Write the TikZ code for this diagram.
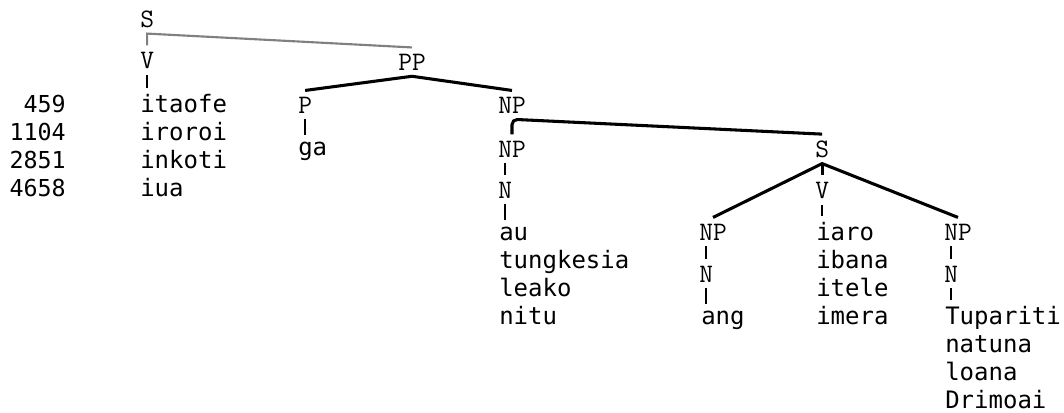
\documentclass[tikz,border=0pt]{standalone}
\usepackage{fontspec}
\usepackage{tikz}
\usetikzlibrary{positioning}
\newfontfamily\wordfont{DejaVu Sans Mono}
\tikzset{
cat/.style={anchor=base west, inner xsep=0pt, inner ysep=4.5pt, font=\ttfamily\fontsize{20}{22}\selectfont},
word/.style={anchor=base west, inner xsep=0pt, inner ysep=4.5pt, font=\wordfont\fontsize{18}{20}\selectfont},
num/.style={anchor=base east, inner sep=0pt, font=\wordfont\fontsize{17.5}{20}\selectfont},
branch/.style={line width=2.3pt, line join=round},
bar/.style={line width=1.8pt},
faint/.style={draw=gray, line width=1.6pt},
}

\begin{document}
\begin{tikzpicture}[x=0.75pt, y=-0.75pt]
    \useasboundingbox (0,0) rectangle (1064,412);

    %verb column
    \node[cat]    (s1) at (140,27) {S};
    \node[cat]    (v1) at (140,68) {V};
    \node[word]   (w1) at (140,112) {itaofe};
    \node[word]   (w2) at (140,140) {iroroi};
    \node[word]   (w3) at (140,168) {inkoti};
    \node[word]   (w4) at (140,196) {iua};

    %counts
    \node[num]    (k1) at (66,112) {459};
    \node[num]    (k2) at (66,140) {1104};
    \node[num]    (k3) at (66,168) {2851};
    \node[num]    (k4) at (66,196) {4658};

    %prepositional phrase
    \node[cat]    (pp) at (398,70) {PP};
    \node[cat]    (p1) at (298,113) {P};
    \node[word]   (w5) at (298,155) {ga};

    %noun phrase
    \node[cat]   (np1) at (498,113) {NP};
    \node[cat]   (np2) at (498,157) {NP};
    \node[cat]    (n1) at (498,198) {N};
    \node[word]   (w6) at (499,240) {au};
    \node[word]   (w7) at (499,268) {tungkesia};
    \node[word]   (w8) at (499,296) {leako};
    \node[word]   (w9) at (499,324) {nitu};

    %embedded clause
    \node[cat]    (s2) at (815,157) {S};
    \node[cat]    (v2) at (815,198) {V};
    \node[word]  (w10) at (816,240) {iaro};
    \node[word]  (w11) at (816,268) {ibana};
    \node[word]  (w12) at (816,296) {itele};
    \node[word]  (w13) at (816,324) {imera};

    \node[cat]   (np3) at (699,240) {NP};
    \node[cat]    (n2) at (699,282) {N};
    \node[word]  (w14) at (701,324) {ang};

    \node[cat]   (np4) at (944,240) {NP};
    \node[cat]    (n3) at (944,282) {N};
    \node[word]  (w15) at (945,324) {Tupariti};
    \node[word]  (w16) at (945,352) {natuna};
    \node[word]  (w17) at (945,380) {loana};
    \node[word]  (w18) at (945,408) {Drimoai};

    %top branches
    \draw[faint]  (v1.north)--(s1.south)--(pp.north);
    \draw[branch] (p1.north)--(pp.south)--(np1.north);
    \draw[branch, rounded corners=4pt] (np2.north)--(np1.south)--(s2.north);
    \draw[branch] (np3.north)--(s2.south)--(np4.north);
    \draw[branch] (s2.south)--(v2.north);

    % vertical lines
    \draw[bar]  (v1.south)--(v1.south |- w1.north);
    \draw[bar]  (p1.south)--(p1.south |- w5.north);
    \draw[bar]  (n1.north |- np2.south)--(n1.north);
    \draw[bar]  (n1.south)--(n1.south |- w6.north);
    \draw[bar]  (v2.south)--(v2.south |- w10.north);
    \draw[bar]  (n2.north |- np3.south)--(n2.north);
    \draw[bar]  (n2.south)--(n2.south |- w14.north);
    \draw[bar]  (n3.north |- np4.south)--(n3.north);
    \draw[bar]  (n3.south)--(n3.south |- w15.north);
\end{tikzpicture}
\end{document}
